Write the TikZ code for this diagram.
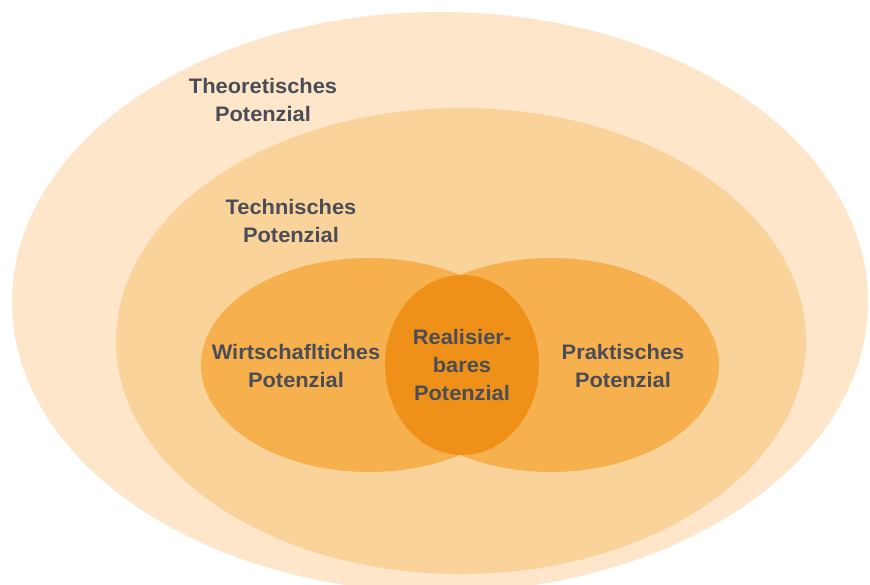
\documentclass[tikz,border=0pt]{standalone}
\usepackage{fontspec}
\setmainfont{Liberation Sans}
\definecolor{outerc}{HTML}{FDE6C9}
\definecolor{techc}{HTML}{FAD39B}
\definecolor{innerc}{HTML}{F6B04D}
\definecolor{realc}{HTML}{EF9118}
\definecolor{txt}{HTML}{4A4D55}
\tikzset{
  lbl/.style={text=txt, font=\fontsize{21}{28}\selectfont\bfseries, align=center, inner sep=0pt, xscale=1.04}
}
\begin{document}
\begin{tikzpicture}[x=1pt,y=-1pt]
\useasboundingbox (0,0) rectangle (870,584);
\clip (0,0) rectangle (870,584);
\fill[white] (0,0) rectangle (870,584);
\fill[outerc] (440,302) ellipse [x radius=428, y radius=290];
\fill[techc] (461,341) ellipse [x radius=345, y radius=233];
\fill[innerc] (369,365) ellipse [x radius=168, y radius=107];
\fill[innerc] (551,365) ellipse [x radius=168, y radius=107];
\fill[realc] (462,365) ellipse [x radius=77, y radius=90];
\node[lbl] (theo) at (263,100) {Theoretisches\\Potenzial};
\node[lbl] (tech) at (291,221) {Technisches\\Potenzial};
\node[lbl] (wirt) at (296,366) {Wirtschafltiches\\Potenzial};
\node[lbl] (real) at (462,365) {Realisier-\\bares\\Potenzial};
\node[lbl] (prak) at (623,366) {Praktisches\\Potenzial};
\end{tikzpicture}
\end{document}
